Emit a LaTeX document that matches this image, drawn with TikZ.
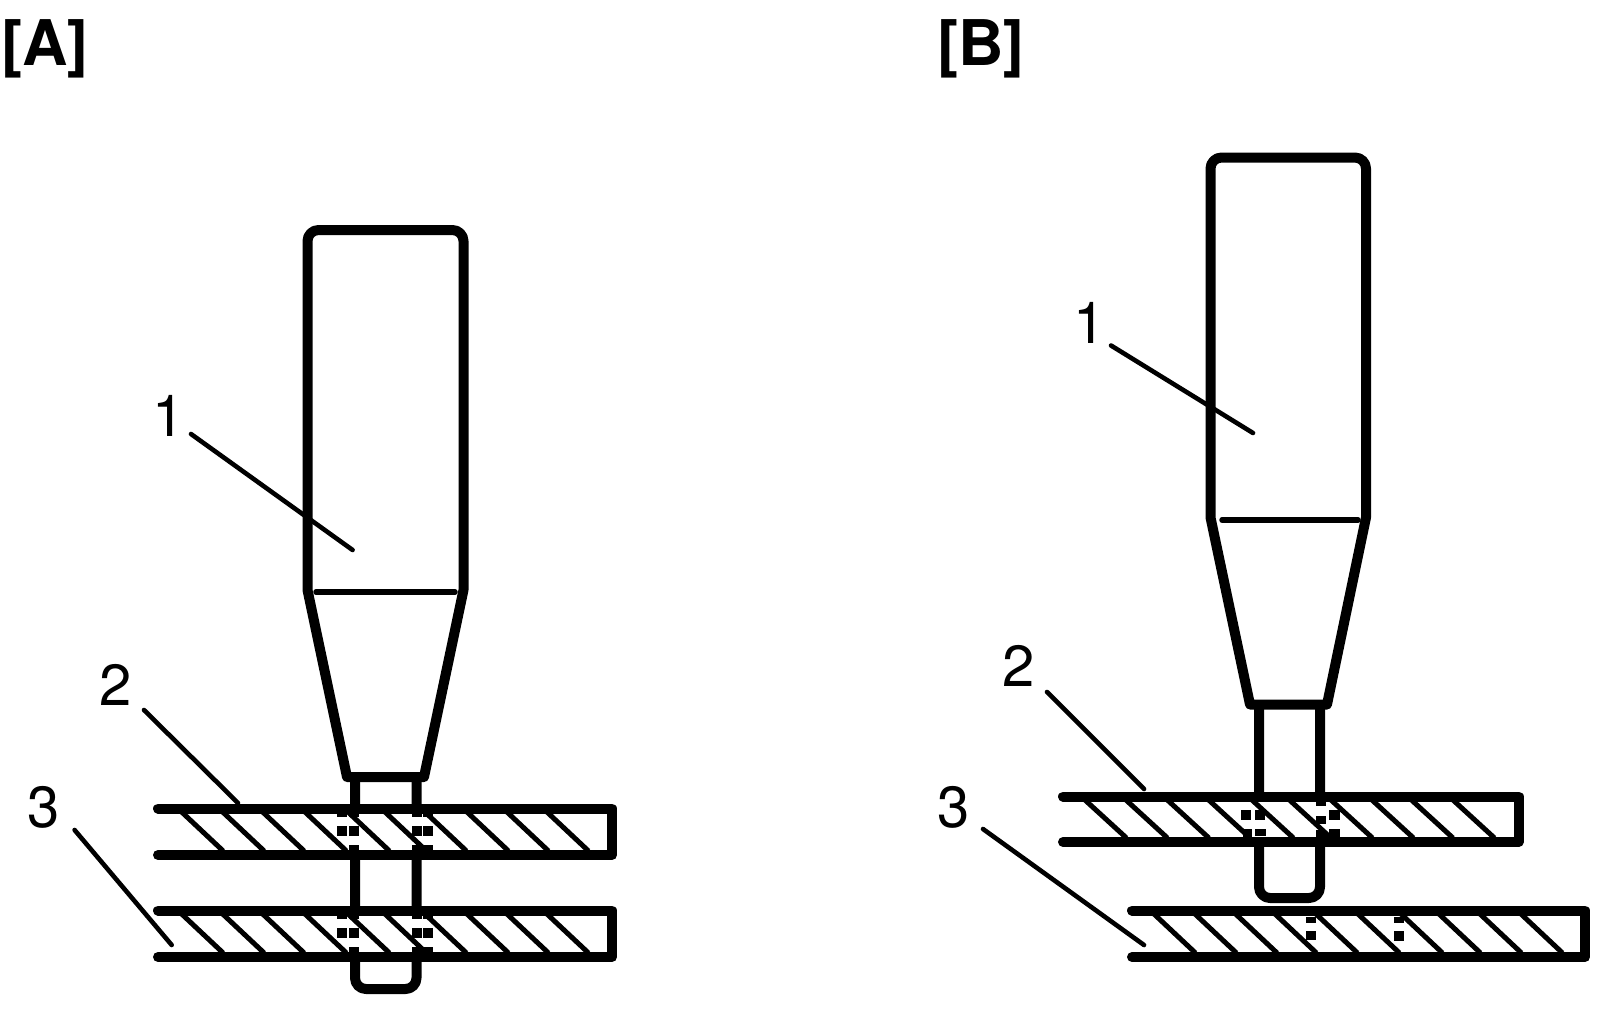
\documentclass[tikz,border=0pt]{standalone}
\usepackage{fontspec}
\setmainfont{TeX Gyre Heros}
\newcommand\sq[4]{\fill (#1,#2) rectangle (#3,#4);}
\newcommand\hatchrow[3]{\foreach \hx in {#3} \draw[hatchline] (\hx,#1) -- ({\hx+41.5},#2);}
\tikzset{
  outline/.style={line width=10pt,line join=round,line cap=round},
  bodyline/.style={line width=10pt,line join=round,fill=white},
  thinline/.style={line width=5.5pt,line cap=round},
  hatchline/.style={line width=5pt},
  leader/.style={line width=4.6pt,line cap=round},
  digit/.style={inner sep=0pt,font=\fontsize{58}{58}\selectfont},
  panel/.style={inner sep=0pt,anchor=base west,font=\fontsize{63}{63}\selectfont\bfseries},
}
\begin{document}
\begin{tikzpicture}[x=1pt,y=-1pt]
\useasboundingbox (0,0) rectangle (1600,1020);
% ---------- panel A
\node[panel] (titleA) at (1,65) {[A]};
% pin
\draw[bodyline,rounded corners=11pt] (355,777) -- (355,989) -- (416.5,989) -- (416.5,777);
% body
\draw[bodyline] (307.5,590) [rounded corners=11pt] -- (307.5,230) -- (463.5,230) -- (463.5,400) [sharp corners] -- (463.5,590) -- (424,777) -- (347,777) -- cycle;
\coordinate (a1s) at (316,592); \coordinate (a1e) at (455,592);
\draw[thinline] (a1s) -- (a1e);
% plates white clear of pin inside
\fill[white] (330,813) rectangle (440,850);
\fill[white] (330,915) rectangle (440,952);
\foreach \dy in {0,102}{
  \begin{scope}[yshift=-\dy pt]
  \sq{337}{826}{347}{836}\sq{349}{826}{359}{836}\sq{412}{826}{422}{836}\sq{423}{826}{433}{836}
  \sq{337}{813}{347}{817}\sq{349}{813}{359}{817}\sq{412}{813}{422}{817}\sq{423}{813}{433}{817}
  \sq{349}{845}{359}{851}\sq{412}{845}{422}{851}\sq{423}{845}{433}{851}
  \hatchrow{812}{851}{181.7,222.7,262.7,305,348,385,425,467,507,547}
  \draw[outline] (158,808.5) -- (612,808.5) -- (612,855) -- (158,855);
  \end{scope}
}
\node[digit] (a1) at (169,416) {1};
\node[digit] (a2) at (115.5,685) {2};
\node[digit] (a3) at (44,807) {3};
\coordinate (a1a) at (191,434); \coordinate (a1b) at (352.6,550);
\coordinate (a2a) at (144,710); \coordinate (a2b) at (238,803);
\coordinate (a3a) at (74.6,830); \coordinate (a3b) at (171.7,945);
\draw[leader] (a1a) -- (a1b);
\draw[leader] (a2a) -- (a2b);
\draw[leader] (a3a) -- (a3b);
% ---------- panel B
\node[panel] (titleB) at (937,65) {[B]};
\draw[bodyline,rounded corners=11pt] (1259,704.5) -- (1259,898) -- (1320,898) -- (1320,704.5);
\draw[bodyline] (1210.5,517.5) [rounded corners=11pt] -- (1210.5,157.5) -- (1366,157.5) -- (1366,400) [sharp corners] -- (1366,517.5) -- (1327,704.5) -- (1250,704.5) -- cycle;
\coordinate (b1s) at (1222,520); \coordinate (b1e) at (1358,520);
\draw[thinline] (b1s) -- (b1e);
\fill[white] (1235,801) rectangle (1345,837);
\sq{1241}{810}{1251}{820}\sq{1255}{810}{1265}{820}\sq{1243}{829}{1252}{837}\sq{1255}{829}{1266}{836}
\sq{1316}{816}{1326}{824}\sq{1329}{810}{1340}{820}\sq{1329}{829}{1340}{837}\sq{1316}{801}{1326}{806}\sq{1316}{830}{1326}{837}
\hatchrow{800}{838}{1085,1126,1167.4,1208.7,1252,1289.5,1331,1372,1411.5,1453}
\draw[outline] (1063,796.5) -- (1518.5,796.5) -- (1518.5,842) -- (1063,842);
\sq{1306}{931}{1316}{940}\sq{1306}{917}{1316}{923}\sq{1394}{931}{1404}{941}\sq{1394}{917}{1404}{923}
\hatchrow{914}{953}{1154,1195,1235.6,1275,1316,1358,1401,1439,1480,1521}
\draw[outline] (1132,910.5) -- (1585,910.5) -- (1585,957) -- (1132,957);
\node[digit] (b1) at (1089.5,323) {1};
\node[digit] (b2) at (1019,666) {2};
\node[digit] (b3) at (953.5,807) {3};
\coordinate (b1a) at (1111,345.5); \coordinate (b1b) at (1253,433);
\coordinate (b2a) at (1047,692); \coordinate (b2b) at (1144,789);
\coordinate (b3a) at (983,829); \coordinate (b3b) at (1144,945);
\draw[leader] (b1a) -- (b1b);
\draw[leader] (b2a) -- (b2b);
\draw[leader] (b3a) -- (b3b);
\end{tikzpicture}
\end{document}
